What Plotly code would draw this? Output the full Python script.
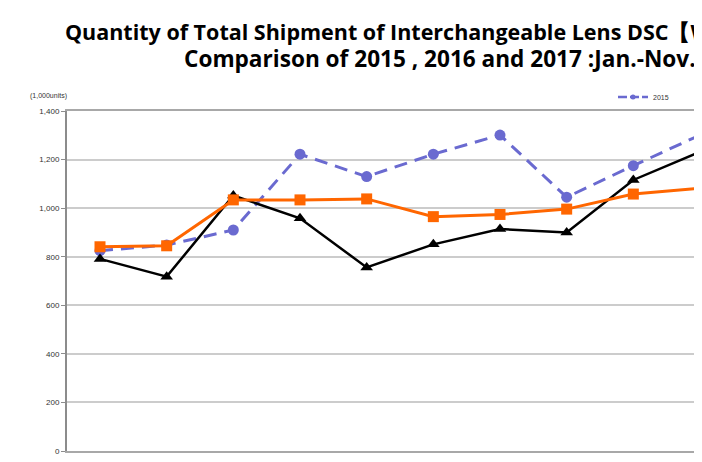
import plotly.graph_objects as go

months = ["Jan", "Feb", "Mar", "Apr", "May", "Jun", "Jul", "Aug", "Sep", "Oct"]
y2015 = [825, 848, 910, 1222, 1130, 1222, 1301, 1045, 1175, 1301]
y2016 = [791, 718, 1052, 958, 756, 851, 914, 900, 1116, 1232]
y2017 = [841, 845, 1034, 1034, 1038, 965, 974, 996, 1058, 1082]
yticks = [0, 200, 400, 600, 800, 1000, 1200, 1400]

title1 = "Quantity of Total Shipment of Interchangeable Lens DSC【Worldwide】"
title2 = "Comparison of 2015 , 2016 and 2017 :Jan.-Nov."

OFF = 8  # page body margin
L, T, B = 67, 111, 11      # absolute page pixels
W, H = 702, 462
pw = W - L
ph = H - T - B

def px(x):
    return (x - L) / pw

def py(y):
    return (H - B - y) / ph

BLUE = "#6A6AD0"

fig = go.Figure()
fig.add_trace(go.Scatter(
    x=months, y=y2015, name="2015", mode="lines+markers", showlegend=False,
    line=dict(color=BLUE, width=3, dash="13px,8px"),
    marker=dict(symbol="circle", size=11, color=BLUE),
))
fig.add_trace(go.Scatter(
    x=[None], y=[None], name="2015", mode="lines+markers", showlegend=True,
    line=dict(color=BLUE, width=2.5, dash="9px,3px"),
    marker=dict(symbol="circle", size=5, color=BLUE),
))
fig.add_trace(go.Scatter(
    x=months, y=y2016, name="2016", mode="lines+markers", showlegend=False,
    line=dict(color="#000000", width=2.5),
    marker=dict(symbol="triangle-up", size=11, color="#000000"),
))
fig.add_trace(go.Scatter(
    x=months, y=y2017, name="2017", mode="lines+markers", showlegend=False,
    line=dict(color="#FF6600", width=3),
    marker=dict(symbol="square", size=11, color="#FF6600"),
))

fig.update_layout(
    width=W - OFF, height=H - OFF,
    margin=dict(l=L - OFF, r=0, t=T - OFF, b=B, pad=0),
    paper_bgcolor="white", plot_bgcolor="white",
    showlegend=True,
    legend=dict(x=px(613), y=py(97), xanchor="left", yanchor="middle",
                orientation="h", font=dict(size=7, family="Liberation Sans", color="#333"),
                itemwidth=30, bgcolor="rgba(0,0,0,0)", tracegroupgap=0),
    xaxis=dict(type="category", range=[-0.495, 9.03], showticklabels=False,
               showgrid=False, showline=True, linecolor="#A8A8A8", linewidth=2,
               mirror=True, ticks="", zeroline=False),
    yaxis=dict(range=[0, 1400], tickvals=yticks, tickformat=",",
               showgrid=True, gridcolor="#CCCCCC", gridwidth=1.5,
               showline=True, linecolor="#8C8C8C", linewidth=2,
               ticks="outside", ticklen=4, tickcolor="#8C8C8C", tickwidth=1,
               tickfont=dict(size=8, family="Liberation Sans", color="#333"),
               zeroline=False, automargin=False),
    annotations=[
        dict(text="<b>" + title1 + "</b>", xref="paper", yref="paper",
             x=px(63), y=py(32), xanchor="left", yanchor="middle", showarrow=False,
             font=dict(size=21.5, family="Open Sans", color="#000")),
        dict(text="<b>" + title2 + "</b>", xref="paper", yref="paper",
             x=px(182), y=py(58), xanchor="left", yanchor="middle", showarrow=False,
             font=dict(size=22.6, family="Open Sans", color="#000")),
        dict(text="(1,000units)", xref="paper", yref="paper",
             x=px(28), y=py(96), xanchor="left", yanchor="middle", showarrow=False,
             font=dict(size=7, family="Liberation Sans", color="#333")),
    ],
)

fig.write_html("out.html")
